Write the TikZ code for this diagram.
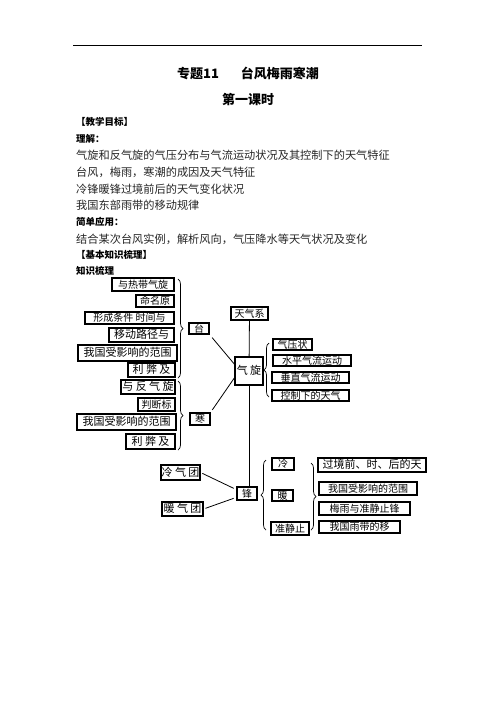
\documentclass[tikz,border=0pt]{standalone}
\usepackage{fontspec}
\setmainfont{Noto Sans CJK SC}
\usetikzlibrary{positioning,decorations.pathreplacing}

\begin{document}
\begin{tikzpicture}[x=1pt, y=-1pt,
    kbox/.style={rectangle, draw, line width=1.1pt, inner sep=0pt, text centered,
        text height=8.3pt, text depth=1.2pt, font=\fontsize{10}{11}\selectfont},
    bigbox/.style={kbox, text height=9.1pt, text depth=1.3pt, font=\fontsize{11}{12}\selectfont},
    para/.style={anchor=west, inner sep=0pt, text=black!85, font=\fontsize{11.2}{12}\selectfont},
    head/.style={anchor=west, inner sep=0pt, font=\fontsize{9.5}{10}\selectfont\bfseries},
    ttl/.style={inner sep=0pt, font=\fontsize{13}{14}\selectfont\bfseries},
    link/.style={line width=0.8pt},
    grp/.style={decorate, decoration={brace, amplitude=5pt}, line width=0.7pt}
]
\useasboundingbox (0,0) rectangle (496,702);

\coordinate (ruleL) at (73,45);
\coordinate (ruleR) at (422,45);
\draw[line width=0.8pt] (ruleL) -- (ruleR);

\node[ttl] (topic) at (248,73) {专题11\hspace{22pt}台风梅雨寒潮};
\node[ttl] (lesson) at (248,99) {第一课时};

\node[head] (goal) at (76,122) {【教学目标】};
\node[head] (und) at (76,139) {理解：};
\node[para] (und1) at (76,155) {气旋和反气旋的气压分布与气流运动状况及其控制下的天气特征};
\node[para] (und2) at (76,172) {台风，梅雨，寒潮的成因及天气特征};
\node[para] (und3) at (76,189) {冷锋暖锋过境前后的天气变化状况};
\node[para] (und4) at (76,205) {我国东部雨带的移动规律};
\node[head] (app) at (76,222) {简单应用：};
\node[para] (app1) at (76,239) {结合某次台风实例，解析风向，气压降水等天气状况及变化};
\node[head] (basic) at (76,255) {【基本知识梳理】};
\node[head] (know) at (76,271) {知识梳理};

% typhoon branch
\node[kbox, minimum width=62, minimum height=13] (tfA) at (143,284.5) {与热带气旋};
\node[kbox, minimum width=38, minimum height=12] (tfB) at (155,301) {命名原};
\node[kbox, minimum width=89, minimum height=12] (tfC) at (129.5,318) {形成条件 时间与};
\node[bigbox, minimum width=65, minimum height=14] (tfD) at (141.5,335) {移动路径与};
\node[bigbox, minimum width=99, minimum height=16] (tfE) at (127.5,353) {我国受影响的范围};
\node[bigbox, minimum width=47, minimum height=14] (tfF) at (151.5,370) {利 弊 及};
\draw[grp] (178,279) -- (178,378);
\node[kbox, minimum width=20, minimum height=11] (tai) at (199,328.5) {台};

% cold wave branch
\node[bigbox, minimum width=54, minimum height=14] (hcA) at (148,387) {与 反 气 旋};
\node[kbox, minimum width=37, minimum height=13] (hcB) at (156.5,404.5) {判断标};
\node[bigbox, minimum width=99, minimum height=16] (hcC) at (126.5,422) {我国受影响的范围};
\node[bigbox, minimum width=49, minimum height=15] (hcD) at (150.5,441.5) {利 弊 及};
\draw[grp] (178,381) -- (178,450);
\node[kbox, minimum width=20, minimum height=12] (han) at (200,419) {寒};

% centre
\node[kbox, minimum width=37, minimum height=13] (sys) at (249.5,313.5) {天气系};
\node[bigbox, minimum width=28, minimum height=28] (qx) at (249,371) {气 旋};
\node[kbox, minimum width=20, minimum height=13] (feng) at (247,493.5) {锋};
\draw[link] (sys) -- (qx);
\draw[link] (qx) -- (qx |- feng.north);
\draw[link, shorten <=4pt] (tai.south east) -- (qx.155);
\draw[link, shorten <=3pt] (han.north east) -- (qx.205);

% cyclone
\draw[grp] (269,397) -- (269,343);
\node[kbox, minimum width=39, minimum height=11] (qA) at (292.5,344.5) {气压状};
\node[kbox, minimum width=78, minimum height=11] (qB) at (312,360.5) {水平气流运动};
\node[kbox, minimum width=77, minimum height=11] (qC) at (310.5,377.5) {垂直气流运动};
\node[kbox, minimum width=77, minimum height=11] (qD) at (310.5,395.5) {控制下的天气};

% front
\node[bigbox, minimum width=39, minimum height=15] (fL1) at (180.5,472.5) {冷 气 团};
\node[bigbox, minimum width=41, minimum height=14] (fL2) at (182.5,509) {暖 气 团};
\draw[link, shorten <=2pt, shorten >=3pt] (fL1.east) -- (feng.160);
\draw[link, shorten <=2pt, shorten >=3pt] (fL2.east) -- (feng.200);
\draw[grp] (266,530) -- (266,460);
\node[kbox, minimum width=22, minimum height=12] (fcA) at (283,464) {冷};
\node[kbox, minimum width=21, minimum height=11] (fcB) at (282.5,495.5) {暖};
\node[kbox, minimum width=38, minimum height=13] (fcC) at (290,528.5) {准静止};
\draw[grp] (311,463) -- (311,530);
\node[bigbox, minimum width=108, minimum height=14] (rA) at (372,465) {过境前、时、后的天};
\node[kbox, minimum width=98, minimum height=13] (rB) at (368,488.5) {我国受影响的范围};
\node[kbox, minimum width=91, minimum height=13] (rC) at (364.5,508.5) {梅雨与准静止锋};
\node[kbox, minimum width=81, minimum height=12] (rD) at (359.5,527) {我国雨带的移};

\end{tikzpicture}
\end{document}
